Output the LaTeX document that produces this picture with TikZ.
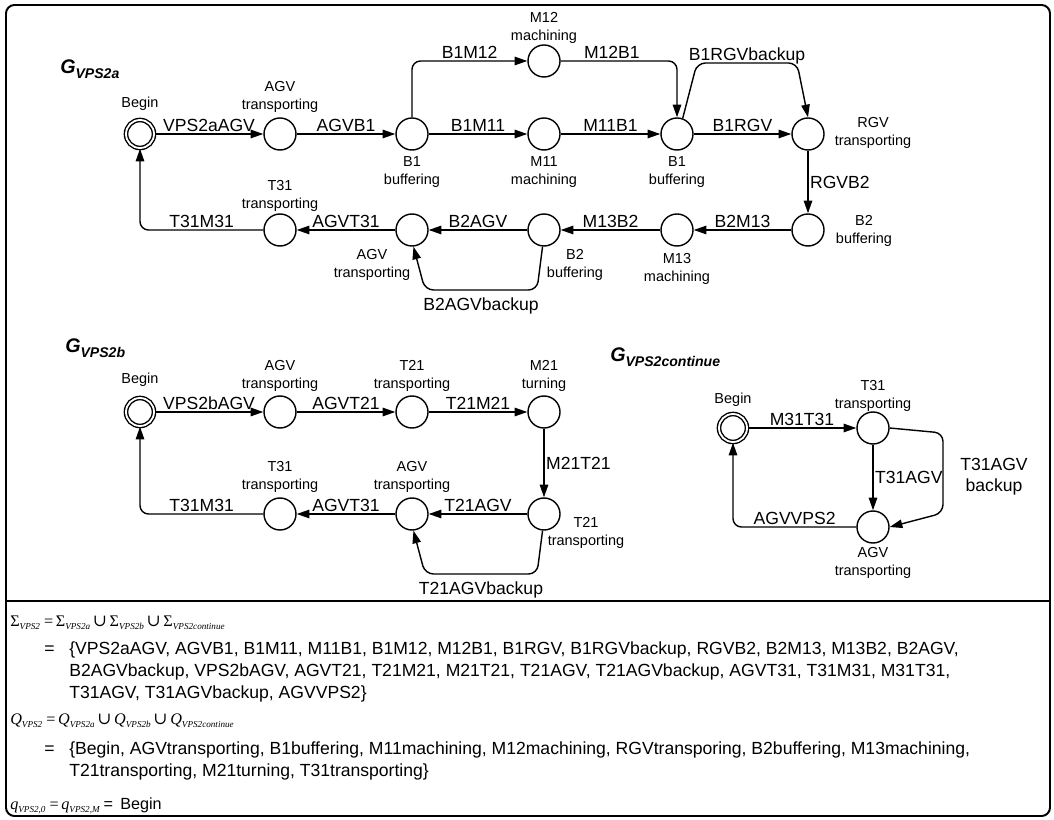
\documentclass[tikz,border=0pt]{standalone}
\usepackage{fontspec}
\setmainfont{Liberation Sans}
\newfontfamily\timesfont{Liberation Serif}
\newfontfamily\cupfont{DejaVu Serif}
\usetikzlibrary{arrows.meta}
\newcommand{\gsub}[1]{\raisebox{-3.5pt}{\fontsize{10}{12}\selectfont\bfseries\itshape #1}}
\newcommand{\tsub}[1]{\raisebox{-2.3pt}{\fontsize{6.5}{8}\selectfont\timesfont\itshape #1}}
\newcommand{\setcup}{\,{\cupfont\fontsize{12}{13}\selectfont ∪}\,}
\tikzset{
  state/.style={circle, draw, line width=1pt, minimum size=0.8cm, inner sep=0pt},
  begin/.style={state, double, double distance=1.3pt, minimum size=0.7cm},
  arr/.style={-{Triangle[length=9pt,width=6pt]}, line width=1pt, rounded corners=6pt},
  elab/.style={above, font=\fontsize{12.5}{15}\selectfont, inner sep=1pt, text depth=0pt},
  elabb/.style={below, yshift=-4pt, font=\fontsize{12.5}{15}\selectfont, inner sep=1pt},
  slab/.style={font=\fontsize{10.3}{12.3}\selectfont, align=center, inner sep=0pt},
  gtitle/.style={anchor=base west, inner sep=0pt, font=\fontsize{14}{16}\selectfont\bfseries\itshape},
  ftext/.style={anchor=base west, inner sep=0pt, font=\fontsize{12.5}{15}\selectfont},
  mtext/.style={anchor=base west, inner sep=0pt, font=\timesfont\fontsize{11.5}{13}\selectfont},
}
\begin{document}
\begin{tikzpicture}[x=0.025cm, y=-0.025cm]
\useasboundingbox (0,0) rectangle (1054,820);
% Frame
\draw[line width=1.4pt, rounded corners=6pt] (6,5) rectangle (1050,816);
\draw[line width=1pt] (6,601) -- (1050,601);

% Titles
\node[gtitle] (ga) at (60,74) {G\gsub{VPS2a}};
\node[gtitle] (gb) at (65,353) {G\gsub{VPS2b}};
\node[gtitle] (gc) at (610,362) {G\gsub{VPS2continue}};

% G_VPS2a states
\node[begin] (beginA) at (140,134) {};
\node[state] (agvA1) at (280,134) {};
\node[state] (b1A) at (412,134) {};
\node[state] (m11) at (544,134) {};
\node[state] (m12) at (544,61) {};
\node[state] (b1B) at (677,134) {};
\node[state] (rgv) at (808,134) {};
\node[state] (b2A) at (808,230) {};
\node[state] (m13) at (677,230) {};
\node[state] (b2B) at (544,230) {};
\node[state] (agvA2) at (412,230) {};
\node[state] (t31A) at (280,230) {};

\node[slab] (beginA-l) at (140,104) {Begin};
\node[slab] (agvA1-l) at (280,97) {AGV\\transporting};
\node[slab] (b1A-l) at (412,172) {B1\\buffering};
\node[slab] (m11-l) at (544,172) {M11\\machining};
\node[slab] (m12-l) at (544,28) {M12\\machining};
\node[slab] (b1B-l) at (677,172) {B1\\buffering};
\node[slab] (rgv-l) at (873,133) {RGV\\transporting};
\node[slab] (b2A-l) at (864,231) {B2\\buffering};
\node[slab] (m13-l) at (677,269) {M13\\machining};
\node[slab] (b2B-l) at (575,265) {B2\\buffering};
\node[slab] (agvA2-l) at (372,265) {AGV\\transporting};
\node[slab] (t31A-l) at (280,196) {T31\\transporting};

% G_VPS2a transitions
\draw[arr] (beginA) -- node[elab] (e-vps2aagv) {VPS2aAGV} (agvA1);
\draw[arr] (agvA1) -- node[elab] (e-agvb1) {AGVB1} (b1A);
\draw[arr] (b1A) -- node[elab] (e-b1m11) {B1M11} (m11);
\draw[arr] (b1A) |- node[elab, pos=0.75] (e-b1m12) {B1M12} (m12);
\draw[arr] (m11) -- node[elab] (e-m11b1) {M11B1} (b1B);
\draw[arr] (m12) -| node[elab, pos=0.22] (e-m12b1) {M12B1} (b1B);
\draw[arr] (b1B) -- node[elab] (e-b1rgv) {B1RGV} (rgv);
\draw[arr] (b1B.70) -- (697,63) -- node[elab] (e-b1rgvb) {B1RGVbackup} (797,63) -- (rgv.north);
\draw[arr] (rgv) -- node[elab, right] (e-rgvb2) {RGVB2} (b2A);
\draw[arr] (b2A) -- node[elab] (e-b2m13) {B2M13} (m13);
\draw[arr] (m13) -- node[elab] (e-m13b2) {M13B2} (b2B);
\draw[arr] (b2B) -- node[elab] (e-b2agv) {B2AGV} (agvA2);
\draw[arr] (b2B.-95) -- (537,290) -- node[elabb] (e-b2agvb) {B2AGVbackup} (425,290) -- (agvA2.-85);
\draw[arr] (agvA2) -- node[elab] (e-agvt31a) {AGVT31} (t31A);
\draw[arr] (t31A) -| node[elab, pos=0.25] (e-t31m31a) {T31M31} (beginA);

% G_VPS2b states
\node[begin] (beginB) at (140,412) {};
\node[state] (agvB1) at (280,412) {};
\node[state] (t21A) at (412,412) {};
\node[state] (m21) at (544,412) {};
\node[state] (t21B) at (544,514) {};
\node[state] (agvB2) at (412,514) {};
\node[state] (t31B) at (280,514) {};

\node[slab] (beginB-l) at (140,380) {Begin};
\node[slab] (agvB1-l) at (280,376) {AGV\\transporting};
\node[slab] (t21A-l) at (412,376) {T21\\transporting};
\node[slab] (m21-l) at (544,376) {M21\\turning};
\node[slab] (t21B-l) at (586,533) {T21\\transporting};
\node[slab] (agvB2-l) at (412,477) {AGV\\transporting};
\node[slab] (t31B-l) at (280,477) {T31\\transporting};

% G_VPS2b transitions
\draw[arr] (beginB) -- node[elab] (e-vps2bagv) {VPS2bAGV} (agvB1);
\draw[arr] (agvB1) -- node[elab] (e-agvt21) {AGVT21} (t21A);
\draw[arr] (t21A) -- node[elab] (e-t21m21) {T21M21} (m21);
\draw[arr] (m21) -- node[elab, right] (e-m21t21) {M21T21} (t21B);
\draw[arr] (t21B) -- node[elab] (e-t21agv) {T21AGV} (agvB2);
\draw[arr] (t21B.-95) -- (537,574) -- node[elabb] (e-t21agvb) {T21AGVbackup} (425,574) -- (agvB2.-85);
\draw[arr] (agvB2) -- node[elab] (e-agvt31b) {AGVT31} (t31B);
\draw[arr] (t31B) -| node[elab, pos=0.25] (e-t31m31b) {T31M31} (beginB);

% G_VPS2continue states
\node[begin] (beginC) at (733,428) {};
\node[state] (t31C) at (873,428) {};
\node[state] (agvC) at (873,527) {};

\node[slab] (beginC-l) at (733,400) {Begin};
\node[slab] (t31C-l) at (873,396) {T31\\transporting};
\node[slab] (agvC-l) at (873,563) {AGV\\transporting};

% G_VPS2continue transitions
\draw[arr] (beginC) -- node[elab] (e-m31t31) {M31T31} (t31C);
\draw[arr] (t31C) -- node[elab, right] (e-t31agv) {T31AGV} (agvC);
\draw[arr] (t31C.east) -- (943,433) -- (943,513) -- (agvC.east);
\node[align=center, font=\fontsize{12.5}{15}\selectfont, inner sep=0pt] (e-t31agvb) at (994,477) {T31AGV\\backup};
\draw[arr] (agvC) -| node[elab, pos=0.25] (e-agvvps2) {AGVVPS2} (beginC);

% Sets
\node[mtext] (sigma) at (10,626) {Σ\tsub{VPS2} =\,Σ\tsub{VPS2a}\setcup Σ\tsub{VPS2b}\setcup Σ\tsub{VPS2continue}};
\node[ftext] (sigma-eq) at (44,654) {=};
\node[ftext] (sigma-1) at (69,654) {\{VPS2aAGV, AGVB1, B1M11, M11B1, B1M12, M12B1, B1RGV, B1RGVbackup, RGVB2, B2M13, M13B2, B2AGV,};
\node[ftext] (sigma-2) at (69,676) {B2AGVbackup, VPS2bAGV, AGVT21, T21M21, M21T21, T21AGV, T21AGVbackup, AGVT31, T31M31, M31T31,};
\node[ftext] (sigma-3) at (69,698) {T31AGV, T31AGVbackup, AGVVPS2\}};
\node[mtext] (q) at (10,724) {\textit{Q}\tsub{VPS2} =\,\textit{Q}\tsub{VPS2a}\setcup\textit{Q}\tsub{VPS2b}\setcup\textit{Q}\tsub{VPS2continue}};
\node[ftext] (q-eq) at (44,754) {=};
\node[ftext] (q-1) at (69,754) {\{Begin, AGVtransporting, B1buffering, M11machining, M12machining, RGVtransporing, B2buffering, M13machining,};
\node[ftext] (q-2) at (69,776) {T21transporting, M21turning, T31transporting\}};
\node[mtext] (q0) at (10,809) {\textit{q}\tsub{VPS2,0} =\,\textit{q}\tsub{VPS2,M} {\rmfamily =\, Begin}};
\end{tikzpicture}
\end{document}
